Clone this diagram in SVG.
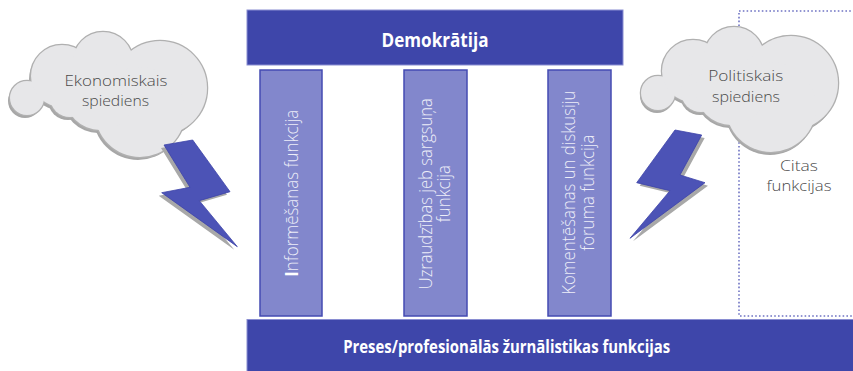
<svg xmlns="http://www.w3.org/2000/svg" xmlns:xlink="http://www.w3.org/1999/xlink" width="853" height="371" viewBox="0 0 853 371">
<style>
.bar{fill:#3E46AA;stroke:#8A8ED2;stroke-width:1}
.col{fill:#8287CC;stroke:#444BB2;stroke-width:1.5}
.bold{font-family:"Open Sans","Noto Sans",sans-serif;font-weight:700;fill:#FFFFFF;text-anchor:middle}
.lt{font-family:"Open Sans","Noto Sans",sans-serif;font-weight:300;font-size:17.5px;text-anchor:middle}
.cl{font-family:"Open Sans","Noto Sans",sans-serif;font-weight:300;font-size:15px;text-anchor:middle;fill:#4A4A4A}
.coltxt{fill:#EDEEF8}
.bolt{fill:#4C53B6;stroke:#3C43A8;stroke-width:0.8;stroke-linejoin:round}
.boltsh{fill:#A8A8A8}
.dots{fill:none;stroke:#6F73C3;stroke-width:1.6;stroke-dasharray:1.6 2.2}
</style>
<defs>
<g id="cloud">
<circle cx="27" cy="98" r="17"/>
<circle cx="62" cy="76" r="31"/>
<circle cx="103" cy="62" r="30"/>
<circle cx="160" cy="88" r="47"/>
<circle cx="140" cy="112" r="45"/>
<circle cx="70" cy="97" r="20"/>
<circle cx="100" cy="95" r="35"/>
</g>
</defs>
<rect width="853" height="371" fill="#FFFFFF"/>

<g id="other-functions">
<rect class="dots" x="739" y="11" width="130" height="305"/>
<text class="cl" x="799" y="170.5" textLength="38" lengthAdjust="spacingAndGlyphs">Citas</text>
<text class="cl" x="799" y="191" textLength="65" lengthAdjust="spacingAndGlyphs">funkcijas</text>
</g>

<g id="democracy">
<rect class="bar" x="247" y="10" width="376" height="55"/>
<text class="bold" x="435" y="46.5" font-size="19" textLength="107" lengthAdjust="spacingAndGlyphs">Demokrātija</text>
</g>

<g id="pillar-inform">
<rect class="col" x="260" y="70" width="62" height="246"/>
<text class="lt coltxt" transform="translate(298,193.3) rotate(-90)" textLength="167" lengthAdjust="spacingAndGlyphs"><tspan font-weight="700" fill="#FFFFFF">I</tspan>nformēšanas funkcija</text>
</g>

<g id="pillar-watchdog">
<rect class="col" x="404" y="70" width="63" height="246"/>
<text class="lt coltxt" transform="translate(431.5,193.7) rotate(-90)"><tspan x="0" y="0" textLength="191" lengthAdjust="spacingAndGlyphs">Uzraudzības jeb sargsuņa</tspan><tspan x="0" y="18.5" textLength="57" lengthAdjust="spacingAndGlyphs">funkcija</tspan></text>
</g>

<g id="pillar-forum">
<rect class="col" x="548" y="70" width="63" height="246"/>
<text class="lt coltxt" transform="translate(575,192.7) rotate(-90)"><tspan x="0" y="0" textLength="204" lengthAdjust="spacingAndGlyphs">Komentēšanas un diskusiju</tspan><tspan x="0" y="18.5" textLength="116" lengthAdjust="spacingAndGlyphs">foruma funkcija</tspan></text>
</g>

<g id="press-functions">
<rect class="bar" x="247" y="319.5" width="610" height="55"/>
<text class="bold" x="506.7" y="353.3" font-size="17.5" textLength="327" lengthAdjust="spacingAndGlyphs">Preses/profesionālās žurnālistikas funkcijas</text>
</g>

<g id="economic-pressure">
<use xlink:href="#cloud" transform="translate(-2,3)" fill="#A7A7A7"/>
<use xlink:href="#cloud" fill="#E7E7E9" stroke="#B0B0B0" stroke-width="2.5"/>
<use xlink:href="#cloud" fill="#E7E7E9"/>
<text class="cl" x="116" y="85.8" textLength="103" lengthAdjust="spacingAndGlyphs">Ekonomiskais</text>
<text class="cl" x="115.5" y="106.3" textLength="67" lengthAdjust="spacingAndGlyphs">spiediens</text>
<polygon class="boltsh" transform="translate(-3,3)" points="164,145 192.7,140 230,191.7 199.3,200.7 237.3,246.7 161.7,192.7 190,187.3"/>
<polygon class="bolt" points="164,145 192.7,140 230,191.7 199.3,200.7 237.3,246.7 161.7,192.7 190,187.3"/>
</g>

<g id="political-pressure">
<g transform="translate(631,-5)">
<use xlink:href="#cloud" transform="translate(-1,3)" fill="#A7A7A7"/>
<use xlink:href="#cloud" fill="#E7E7E9" stroke="#B0B0B0" stroke-width="2.5"/>
<use xlink:href="#cloud" fill="#E7E7E9"/>
</g>
<text class="cl" x="745.7" y="81" textLength="75" lengthAdjust="spacingAndGlyphs">Politiskais</text>
<text class="cl" x="746" y="101.5" textLength="68" lengthAdjust="spacingAndGlyphs">spiediens</text>
<polygon class="boltsh" transform="translate(3,3)" points="675,130 701.7,135 680,175 705,182.7 630,238.3 670,190.7 636.7,182.7"/>
<polygon class="bolt" points="675,130 701.7,135 680,175 705,182.7 630,238.3 670,190.7 636.7,182.7"/>
</g>

<g id="connectors"></g>
</svg>
